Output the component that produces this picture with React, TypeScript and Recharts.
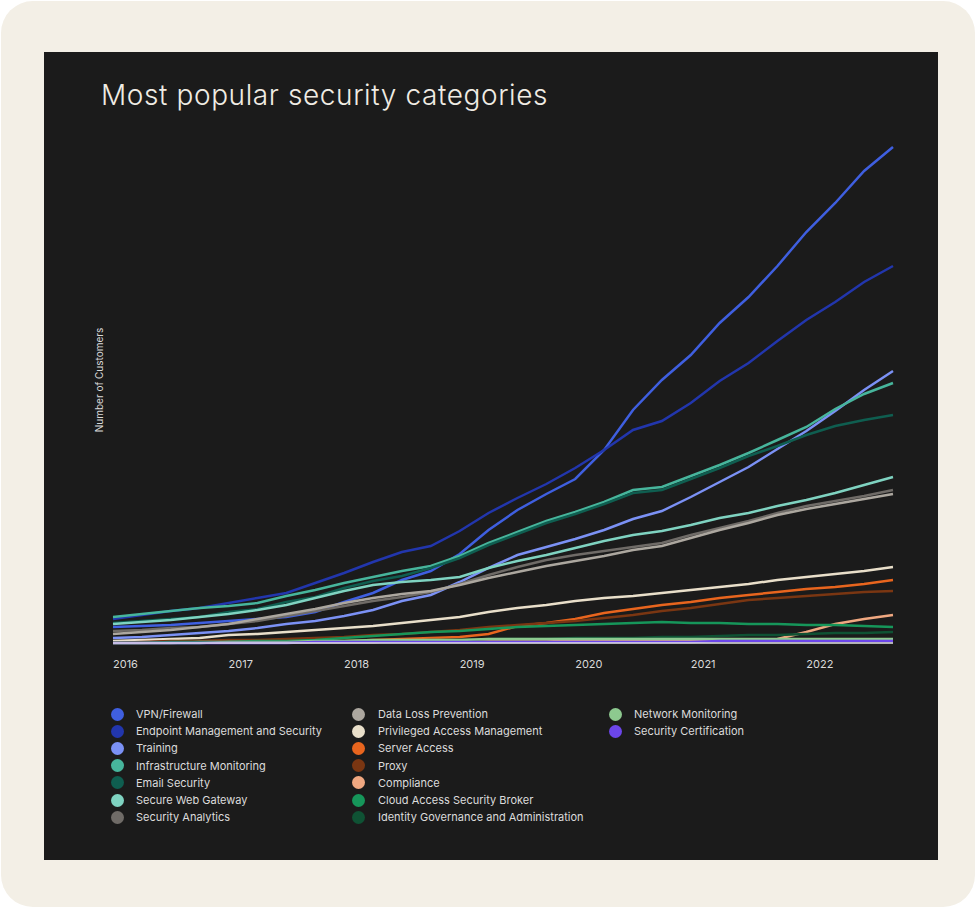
import { LineChart, Line, XAxis, YAxis } from "recharts"

// quarterly points, Jan 2016 .. Oct 2022
const quarters = [
  2016, 2016.25, 2016.5, 2016.75, 2017, 2017.25, 2017.5, 2017.75, 2018, 2018.25, 2018.5, 2018.75, 2019, 2019.25,
  2019.5, 2019.75, 2020, 2020.25, 2020.5, 2020.75, 2021, 2021.25, 2021.5, 2021.75, 2022, 2022.25, 2022.5, 2022.75,
]
const yearTicks = [2016, 2017, 2018, 2019, 2020, 2021, 2022]

// customers (relative index)
const vpnFirewall = [16, 17, 18, 20, 22, 24, 26, 31, 41, 50, 63, 72, 89, 113, 133, 149, 164, 193, 233, 263, 288, 320, 346, 377, 411, 440, 472, 496]
const endpointSecurity = [24, 28, 32, 35, 40, 45, 50, 60, 70, 81, 91, 97, 112, 130, 145, 159, 175, 193, 213, 222, 240, 262, 280, 302, 323, 341, 361, 377]
const training = [5, 6, 8, 10, 12, 15, 19, 22, 27, 33, 42, 48, 61, 75, 88, 96, 104, 113, 124, 132, 146, 161, 176, 194, 212, 232, 253, 272]
const infraMonitoring = [26, 29, 32, 35, 37, 40, 47, 53, 60, 66, 72, 77, 87, 100, 111, 122, 131, 141, 153, 156, 167, 178, 190, 203, 216, 234, 249, 260]
const emailSecurity = [20, 22, 24, 26, 31, 34, 41, 46, 55, 62, 67, 75, 85, 98, 109, 120, 129, 139, 150, 153, 164, 175, 187, 197, 208, 217, 223, 228]
const secureWebGateway = [19, 21, 23, 26, 29, 33, 38, 45, 52, 58, 61, 63, 66, 75, 82, 88, 95, 102, 108, 112, 118, 125, 130, 137, 143, 150, 158, 166]
const securityAnalytics = [12, 13, 15, 16, 19, 22, 27, 32, 37, 42, 46, 51, 59, 68, 76, 83, 88, 92, 96, 100, 108, 115, 122, 130, 137, 142, 147, 153]
const dataLossPrevention = [9, 11, 13, 16, 19, 24, 29, 34, 40, 45, 49, 52, 58, 65, 71, 77, 82, 87, 93, 97, 105, 113, 120, 128, 134, 139, 144, 149]
const privilegedAccess = [2, 3, 4, 5, 8, 9, 11, 13, 15, 17, 20, 23, 26, 31, 35, 38, 42, 45, 47, 50, 53, 56, 59, 63, 66, 69, 72, 76]
const serverAccess = [0, 0, 1, 1, 1, 1, 2, 2, 2, 3, 4, 5, 6, 9, 17, 20, 24, 30, 34, 38, 41, 45, 48, 51, 54, 56, 59, 63]
const proxy = [0, 1, 2, 2, 3, 3, 4, 5, 6, 8, 9, 11, 13, 16, 18, 20, 22, 25, 28, 32, 35, 39, 43, 45, 47, 49, 51, 52]
const compliance = [0, 0, 0, 1, 1, 1, 1, 1, 1, 1, 2, 2, 2, 2, 2, 2, 2, 2, 3, 3, 3, 3, 3, 4, 11, 19, 24, 28]
const casb = [0, 0, 1, 1, 1, 2, 2, 3, 5, 7, 9, 11, 12, 14, 16, 17, 18, 19, 20, 21, 20, 20, 19, 19, 18, 18, 17, 16]
const identityGovernance = [0, 0, 0, 0, 1, 1, 1, 1, 2, 2, 2, 3, 3, 4, 4, 4, 5, 5, 5, 6, 6, 7, 8, 8, 9, 10, 10, 11]
const networkMonitoring = [0, 0, 0, 0, 1, 1, 1, 2, 2, 3, 3, 3, 3, 4, 4, 4, 4, 4, 4, 4, 4, 4, 4, 4, 4, 4, 4, 4]
const securityCertification = [0, 0, 0, 0, 0, 0, 0, 1, 1, 1, 1, 1, 1, 1, 1, 1, 1, 1, 1, 1, 1, 2, 2, 2, 2, 2, 2, 2]

const series = [
  { name: "VPN/Firewall", color: "#3f5fe0", values: vpnFirewall },
  { name: "Endpoint Management and Security", color: "#2236ad", values: endpointSecurity },
  { name: "Training", color: "#7b91f5", values: training },
  { name: "Infrastructure Monitoring", color: "#47b59c", values: infraMonitoring },
  { name: "Email Security", color: "#0f5e50", values: emailSecurity },
  { name: "Secure Web Gateway", color: "#7fd3c1", values: secureWebGateway },
  { name: "Security Analytics", color: "#6f6b67", values: securityAnalytics },
  { name: "Data Loss Prevention", color: "#aca79f", values: dataLossPrevention },
  { name: "Privileged Access Management", color: "#e9dfca", values: privilegedAccess },
  { name: "Server Access", color: "#e8651e", values: serverAccess },
  { name: "Proxy", color: "#7a3612", values: proxy },
  { name: "Compliance", color: "#f0a881", values: compliance },
  { name: "Cloud Access Security Broker", color: "#16965a", values: casb },
  { name: "Identity Governance and Administration", color: "#0f5234", values: identityGovernance },
  { name: "Network Monitoring", color: "#8dc98f", values: networkMonitoring },
  { name: "Security Certification", color: "#6c46ea", values: securityCertification },
]

const data = quarters.map((t, i) => {
  const row: any = { t }
  series.forEach((s) => {
    row[s.name] = s.values[i]
  })
  return row
})

const YearTick = (props: any) => {
  const { x, y, payload } = props
  return (
    <text x={x} y={y + 17} fill="#d9d9d9" fontSize={11} fontFamily="Inter" textAnchor="start">
      {payload.value}
    </text>
  )
}

const legendCols = [
  { circleX: 117, textX: 136, items: series.slice(0, 7) },
  { circleX: 358, textX: 378, items: series.slice(7, 14) },
  { circleX: 615, textX: 634, items: series.slice(14) },
]

export default function App() {
  return (
    <div style={{ position: "relative", width: 976, height: 908, background: "#fff", fontFamily: "Inter" }}>
      <style>{"body{margin:0}"}</style>
      <div
        style={{ position: "absolute", left: 1, top: 1, width: 974, height: 906, borderRadius: 32, background: "#f3efe6" }}
      />
      <div style={{ position: "absolute", left: 44, top: 52, width: 894, height: 808, background: "#1b1b1b" }} />
      <div
        style={{
          position: "absolute",
          left: 101,
          top: 81,
          fontSize: 28,
          lineHeight: "28px",
          fontWeight: 300,
          letterSpacing: 0.6,
          color: "#f0ece4",
          whiteSpace: "nowrap",
        }}
      >
        Most popular security categories
      </div>

      <div style={{ position: "absolute", left: 0, top: 0 }}>
        <LineChart width={976} height={700} data={data} margin={{ top: 135, right: 83, bottom: 27, left: 113 }}>
          <XAxis
            dataKey="t"
            type="number"
            domain={[2016, 2022.75]}
            ticks={yearTicks}
            tick={<YearTick />}
            tickLine={false}
            axisLine={{ stroke: "#e4e4e4", strokeWidth: 1.5 }}
            height={30}
          />
          <YAxis
            domain={[0, 508]}
            width={0}
            tick={false}
            tickLine={false}
            axisLine={{ stroke: "#e4e4e4", strokeWidth: 1.5 }}
          />
          {series.map((s) => (
            <Line
              key={s.name}
              type="linear"
              dataKey={s.name}
              stroke={s.color}
              strokeWidth={2.5}
              dot={false}
              isAnimationActive={false}
            />
          ))}
        </LineChart>
      </div>

      <div
        style={{
          position: "absolute",
          left: 99,
          top: 380,
          transform: "translate(-50%, -50%) rotate(-90deg)",
          fontSize: 10,
          color: "#d9d9d9",
          whiteSpace: "nowrap",
        }}
      >
        Number of Customers
      </div>

      {legendCols.map((col, ci) =>
        col.items.map((s, i) => {
          const cy = 714 + i * 17.2
          return (
            <div key={ci + "-" + s.name}>
              <div
                style={{
                  position: "absolute",
                  left: col.circleX - 6.5,
                  top: cy - 6.5,
                  width: 13,
                  height: 13,
                  borderRadius: "50%",
                  background: s.color,
                }}
              />
              <div
                style={{
                  position: "absolute",
                  left: col.textX,
                  top: cy - 8,
                  height: 16,
                  lineHeight: "16px",
                  fontSize: 11,
                  color: "#dcdcdc",
                  whiteSpace: "nowrap",
                }}
              >
                {s.name}
              </div>
            </div>
          )
        })
      )}
    </div>
  )
}
